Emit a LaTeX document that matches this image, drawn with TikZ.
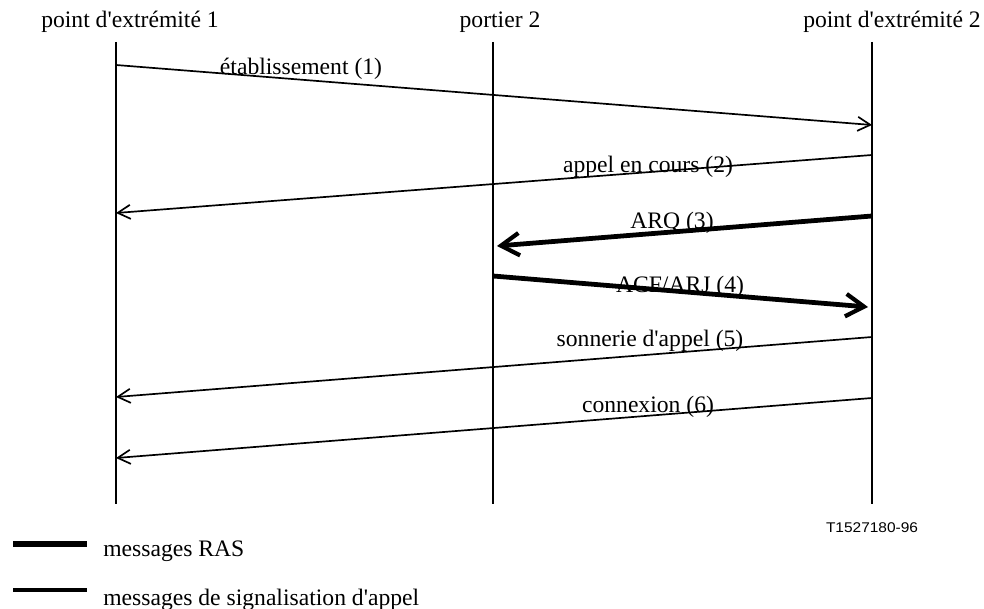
\documentclass[tikz,border=0pt]{standalone}
\usepackage{fontspec}
\setmainfont{Liberation Serif}
\newfontfamily\codefont[FakeStretch=1.1]{Liberation Sans}
\usetikzlibrary{arrows.meta}
\newcommand{\q}{\textquotesingle}

\begin{document}
\begin{tikzpicture}[x=0.025cm, y=-0.025cm,
    font=\fontsize{16.8}{20}\selectfont,
    lifeline/.style={line width=2pt},
    sigmsg/.style={line width=1.2pt, -{Straight Barb[length=9pt, width=10pt, line width=1.2pt]}},
    rasmsg/.style={line width=3.4pt, -{Straight Barb[length=13pt, width=16pt, line width=3pt]}},
    msglabel/.style={inner sep=0pt}]
    \useasboundingbox (0,0) rectangle (984,609);

    % Headers and lifelines
    \node (ep1) at (130,22) {point d\q extrémité 1};
    \node (gk2) at (500,22) {portier 2};
    \node (ep2) at (892,22) {point d\q extrémité 2};
    \foreach \name/\x in {a/116, b/493, c/872} {
        \coordinate (\name top) at (\x,42);
        \coordinate (\name bot) at (\x,504);
        \draw[lifeline] (\name top) -- (\name bot);
    }

    % Message end points
    \coordinate (m1s) at (116,65);  \coordinate (m1e) at (872,125);
    \coordinate (m2s) at (872,155); \coordinate (m2e) at (116,213);
    \coordinate (m3s) at (872,216); \coordinate (m3e) at (497,246);
    \coordinate (m4s) at (493,276); \coordinate (m4e) at (868,307);
    \coordinate (m5s) at (872,337); \coordinate (m5e) at (116,397);
    \coordinate (m6s) at (872,398); \coordinate (m6e) at (116,458);

    % Messages
    \draw[sigmsg] (m1s) -- (m1e);
    \draw[sigmsg] (m2s) -- (m2e);
    \draw[rasmsg] (m3s) -- (m3e);
    \draw[rasmsg] (m4s) -- (m4e);
    \draw[sigmsg] (m5s) -- (m5e);
    \draw[sigmsg] (m6s) -- (m6e);

    % Labels
    \node[msglabel] (l1) at (301,69)  {établissement (1)};
    \node[msglabel] (l2) at (648,167) {appel en cours (2)};
    \node[msglabel] (l3) at (672,223) {ARQ (3)};
    \node[msglabel] (l4) at (680,287) {ACF/ARJ (4)};
    \node[msglabel] (l5) at (650,341) {sonnerie d\q appel (5)};
    \node[msglabel] (l6) at (648,407) {connexion (6)};

    \node (ref) at (872,528) {\codefont\fontsize{10}{12}\selectfont T1527180-96};

    % Legend
    \coordinate (ras1) at (13,544);  \coordinate (ras2) at (87,544);
    \coordinate (sig1) at (13,590);  \coordinate (sig2) at (87,590);
    \draw[line width=3.8pt] (ras1) -- (ras2);
    \draw[line width=2.4pt] (sig1) -- (sig2);
    \node[anchor=west, inner sep=0pt] (rastext) at (103,551) {messages RAS};
    \node[anchor=west, inner sep=0pt] (sigtext) at (103,600) {messages de signalisation d\q appel};
\end{tikzpicture}
\end{document}
